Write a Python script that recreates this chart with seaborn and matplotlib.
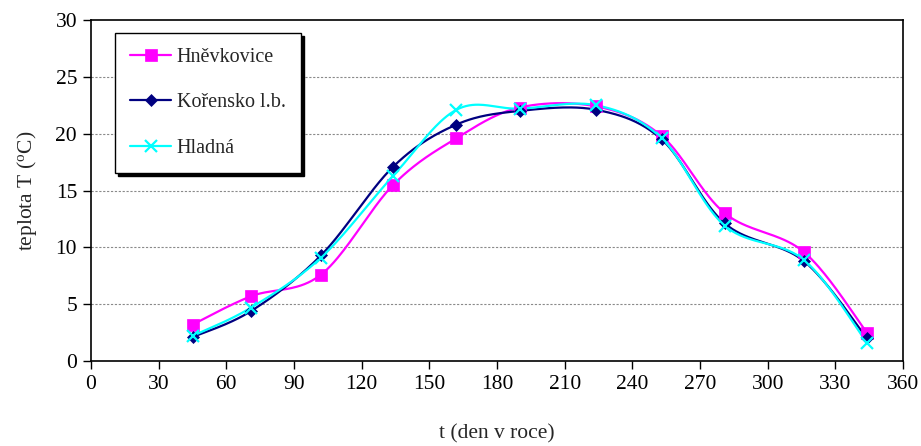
import numpy as np
import pandas as pd
import matplotlib
matplotlib.use("Agg")
import matplotlib.pyplot as plt
import seaborn as sns
from matplotlib.lines import Line2D

days = [45, 71, 102, 134, 162, 190, 224, 253, 281, 316, 344]
hnevkovice = [3.2, 5.7, 7.6, 15.5, 19.6, 22.3, 22.4, 19.8, 13.0, 9.6, 2.5]
korensko = [2.1, 4.4, 9.3, 17.1, 20.8, 22.0, 22.1, 19.5, 12.1, 8.8, 2.0]
hladna = [2.2, 4.7, 9.1, 16.3, 22.1, 22.2, 22.5, 19.6, 11.9, 8.9, 1.6]
series_names = ["Hněvkovice", "Kořensko l.b.", "Hladná"]
x_ticks = list(range(0, 361, 30))
y_ticks = list(range(0, 31, 5))

colors = ["#FF00FF", "#000080", "#00FFFF"]
markers = ["s", "D", "x"]
msizes = [8.5, 6.5, 8]


def smooth(x, y, n=40):
    P = np.column_stack([x, y]).astype(float)
    m = len(P)
    out = []
    for i in range(m - 1):
        p0 = P[max(i - 1, 0)]
        p1 = P[i]
        p2 = P[i + 1]
        p3 = P[min(i + 2, m - 1)]
        c1 = p1 + (p2 - p0) / 6.0
        c2 = p2 - (p3 - p1) / 6.0
        t = np.linspace(0, 1, n)[:, None]
        b = ((1 - t) ** 3) * p1 + 3 * ((1 - t) ** 2) * t * c1 + 3 * (1 - t) * t ** 2 * c2 + t ** 3 * p2
        out.append(b if i == 0 else b[1:])
    B = np.vstack(out)
    return B[:, 0], B[:, 1]


sns.set_theme(style="white")
plt.rcParams["font.family"] = ["Liberation Serif", "DejaVu Serif"]
plt.rcParams["mathtext.fontset"] = "custom"
plt.rcParams["mathtext.rm"] = "Liberation Serif"

fig = plt.figure(figsize=(9.21, 4.46), dpi=100)
ax = fig.add_axes([91 / 921, 1 - 361 / 446, 812 / 921, 341 / 446])

data = [hnevkovice, korensko, hladna]
handles = []
for name, vals, c, mk, ms in zip(series_names, data, colors, markers, msizes):
    sx, sy = smooth(days, vals)
    sns.lineplot(x=sx, y=sy, sort=False, estimator=None, color=c, lw=1.6, ax=ax, zorder=3)
    mew = 1.6 if mk == "x" else 0.5
    ax.plot(days, vals, linestyle="none", marker=mk, markersize=ms, color=c,
            markeredgecolor=c, markeredgewidth=mew, zorder=4)
    handles.append(Line2D([], [], color=c, lw=1.6, marker=mk, markersize=ms,
                          markeredgecolor=c, markeredgewidth=mew))

ax.set_xlim(0, 360)
ax.set_ylim(0, 30)
ax.set_xticks(x_ticks)
ax.set_yticks(y_ticks)
ax.tick_params(axis="both", direction="out", length=6, width=1, labelsize=15.5,
               bottom=True, left=True, colors="black", pad=4)
for yv in y_ticks[1:-1]:
    ax.axhline(yv, color="#8a8a8a", lw=0.8, ls=(0, (2, 1.5)), zorder=1)
for s in ["top", "right"]:
    ax.spines[s].set_visible(True)
for s in ax.spines.values():
    s.set_color("black")
    s.set_linewidth(1.2)

ax.set_xlabel("t (den v roce)", fontsize=15.5, labelpad=22)
ax.set_ylabel(r"teplota T ($\mathregular{^{o}}$C)", fontsize=15.5, labelpad=12)

leg = ax.legend(handles, series_names, loc="upper left", bbox_to_anchor=(0.03, 0.962),
                borderaxespad=0, fontsize=14.5, labelspacing=1.3, handlelength=2.0,
                handletextpad=0.3, borderpad=0.75, frameon=True, fancybox=False,
                shadow={"color": "black", "alpha": 1.0})
leg.get_frame().set_edgecolor("black")
leg.get_frame().set_linewidth(1.0)
leg.set_zorder(6)

fig.savefig("out.png", dpi=100)
